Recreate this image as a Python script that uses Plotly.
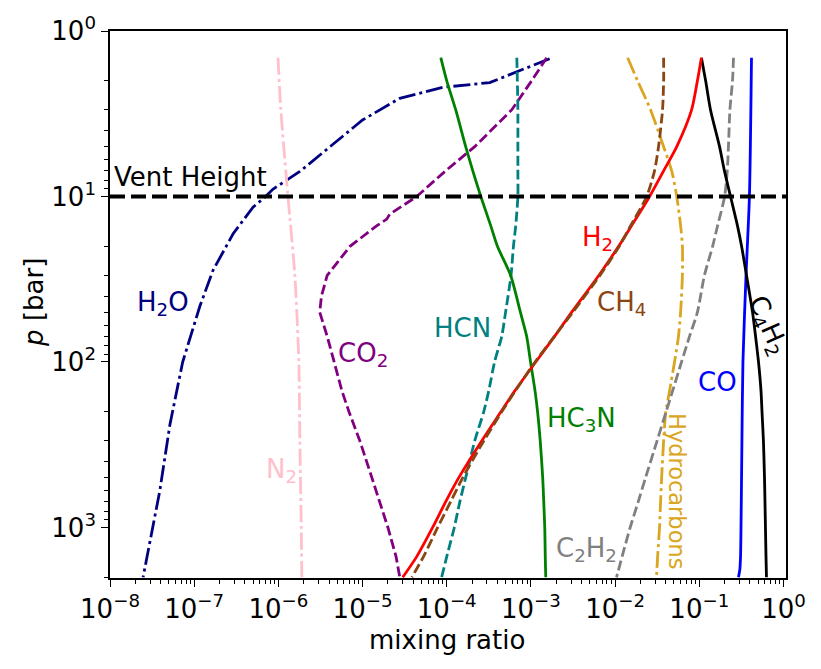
import numpy as np
import plotly.graph_objects as go

# ---------------- data ----------------
P_GRID = [1.45, 2, 3, 5, 7, 10, 15, 20, 30, 50, 70, 100, 150, 200, 300, 500, 700, 1000, 1500, 2000]

H2O_P = [1.47, 2.05, 2.19, 2.55, 3.45, 4.87, 7.06, 9.04, 10.1, 11.6, 16.8, 28, 45.9, 100, 239, 602, 1432, 2000]
H2O_X = [1.67e-3, 3.24e-4, 8.97e-5, 2.77e-5, 1.0e-5, 4.4e-6, 1.8e-6, 8.6e-7, 6.9e-7, 5.0e-7, 2.9e-7,
         1.67e-7, 1.17e-7, 7.3e-8, 5.15e-8, 3.9e-8, 2.8e-8, 2.47e-8]

N2_P = [1.45, 3, 10, 30, 100, 300, 1000, 2000]
N2_X = [9.9e-7, 1.07e-6, 1.30e-6, 1.57e-6, 1.75e-6, 1.80e-6, 1.87e-6, 1.90e-6]

CO2_P = [1.45, 2, 3, 5, 7, 10, 12.8, 13.7, 15, 20, 30, 40, 50, 70, 100, 150, 200, 300, 500, 700, 1000, 1500, 2000]
CO2_X = [1.54e-3, 1.02e-3, 5.9e-4, 2.15e-4, 9.7e-5, 4.4e-5, 2.1e-5, 1.94e-5, 1.48e-5, 7.1e-6, 3.8e-6,
         3.25e-6, 3.1e-6, 3.8e-6, 4.6e-6, 5.7e-6, 6.9e-6, 9.3e-6, 1.29e-5, 1.6e-5, 2.0e-5, 2.5e-5, 2.77e-5]

HCN_X = [6.8e-4, 6.9e-4, 7.0e-4, 7.0e-4, 7.0e-4, 7.0e-4, 6.6e-4, 6.2e-4, 5.8e-4, 5.0e-4, 4.5e-4,
         3.7e-4, 3.15e-4, 2.75e-4, 2.15e-4, 1.68e-4, 1.43e-4, 1.23e-4, 1.0e-4, 8.7e-5]

HC3N_X = [8.5e-5, 1.0e-4, 1.28e-4, 1.68e-4, 2.04e-4, 2.54e-4, 3.33e-4, 4.0e-4, 5.75e-4, 7.5e-4, 8.9e-4,
          9.9e-4, 1.12e-3, 1.20e-3, 1.29e-3, 1.38e-3, 1.42e-3, 1.46e-3, 1.48e-3, 1.50e-3]

H2_X = [0.106, 0.095, 0.081, 0.054, 0.0377, 0.0257, 0.0157, 0.0110, 6.4e-3, 3.05e-3, 1.91e-3,
        1.14e-3, 6.4e-4, 4.4e-4, 2.6e-4, 1.39e-4, 9.7e-5, 6.8e-5, 4.4e-5, 3.0e-5]

CH4_X = [0.0377, 0.0377, 0.0366, 0.0328, 0.0294, 0.0237, 0.0153, 0.0112, 6.6e-3, 3.15e-3, 1.9e-3,
         1.12e-3, 6.5e-4, 4.5e-4, 2.75e-4, 1.55e-4, 1.11e-4, 7.8e-5, 5.3e-5, 3.85e-5]

HYDRO_X = [0.0141, 0.0185, 0.0264, 0.0377, 0.047, 0.054, 0.060, 0.063, 0.063, 0.060, 0.0566,
           0.0508, 0.0443, 0.040, 0.0377, 0.0357, 0.0347, 0.0337, 0.032, 0.031]

C2H2_X = [0.255, 0.248, 0.231, 0.222, 0.215, 0.200, 0.165, 0.144, 0.115, 0.095, 0.0766,
          0.0615, 0.0481, 0.0403, 0.0315, 0.0230, 0.0188, 0.0151, 0.0121, 0.0104]

CO_P = [1.45, 10, 30, 100, 300, 1000, 1500, 1800, 2000]
CO_X = [0.417, 0.394, 0.359, 0.330, 0.321, 0.313, 0.309, 0.303, 0.292]

C4H2_X = [0.106, 0.119, 0.136, 0.174, 0.199, 0.235, 0.284, 0.318, 0.364, 0.429, 0.466,
          0.505, 0.541, 0.556, 0.578, 0.595, 0.603, 0.611, 0.620, 0.628]

VENT_P = 10

X_TICKS = [1e-8, 1e-7, 1e-6, 1e-5, 1e-4, 1e-3, 1e-2, 1e-1, 1e0]
X_TICKTEXT = ["10<sup>−8</sup>", "10<sup>−7</sup>", "10<sup>−6</sup>", "10<sup>−5</sup>", "10<sup>−4</sup>",
              "10<sup>−3</sup>", "10<sup>−2</sup>", "10<sup>−1</sup>", "10<sup>0</sup>"]
Y_TICKS = [1, 10, 100, 1000]
Y_TICKTEXT = ["10<sup>0</sup>", "10<sup>1</sup>", "10<sup>2</sup>", "10<sup>3</sup>"]

# ---------------- styling ----------------
FONT = "DejaVu Sans"
FS = 26
LW = 2.8
DASH = "10px,4px"
DASHDOT = "17px,4px,3px,4px"

fig = go.Figure()

series = [
    (H2O_X, H2O_P, "navy", DASHDOT, "linear"),
    (N2_X, N2_P, "pink", DASHDOT, "spline"),
    (CO2_X, CO2_P, "purple", DASH, "linear"),
    (HCN_X, P_GRID, "teal", DASH, "spline"),
    (HC3N_X, P_GRID, "green", "solid", "spline"),
    (HYDRO_X, P_GRID, "goldenrod", DASHDOT, "spline"),
    (C2H2_X, P_GRID, "gray", DASH, "spline"),
    (CO_X, CO_P, "blue", "solid", "spline"),
    (C4H2_X, P_GRID, "black", "solid", "spline"),
    (H2_X, P_GRID, "red", "solid", "spline"),
    (CH4_X, P_GRID, "saddlebrown", DASH, "spline"),
]
for xs, ps, col, dash, shape in series:
    line = dict(color=col, width=LW, dash=dash, shape=shape)
    if shape == "spline":
        line["smoothing"] = 0.7
    fig.add_trace(go.Scatter(x=xs, y=ps, mode="lines", line=line,
                             showlegend=False, hoverinfo="skip"))

X_MIN_LOG, X_MAX_LOG = -8, 0.03
fig.add_trace(go.Scatter(x=[10 ** X_MIN_LOG, 10 ** X_MAX_LOG], y=[VENT_P, VENT_P], mode="lines",
                         line=dict(color="black", width=4, dash="15px,6px"),
                         showlegend=False, hoverinfo="skip"))

labels = [
    ("Vent Height", 10 ** -7.976, 9.7, "black", 0, "left", "bottom", FS),
    ("H<sub>2</sub>O", 10 ** -7.371, 10 ** 1.644, "navy", 0, "center", "middle", FS),
    ("N<sub>2</sub>", 10 ** -5.958, 10 ** 2.654, "pink", 0, "center", "middle", FS),
    ("CO<sub>2</sub>", 10 ** -4.997, 10 ** 1.955, "purple", 0, "center", "middle", FS),
    ("HCN", 10 ** -3.810, 10 ** 1.793, "teal", 0, "center", "middle", FS),
    ("HC<sub>3</sub>N", 10 ** -2.398, 10 ** 2.349, "green", 0, "center", "middle", FS),
    ("H<sub>2</sub>", 10 ** -2.208, 10 ** 1.255, "red", 0, "center", "middle", FS),
    ("CH<sub>4</sub>", 10 ** -1.923, 10 ** 1.644, "saddlebrown", 0, "center", "middle", FS),
    ("C<sub>2</sub>H<sub>2</sub>", 10 ** -2.338, 10 ** 3.132, "gray", 0, "center", "middle", FS),
    ("Hydrocarbons", 10 ** -1.265, 10 ** 2.779, "goldenrod", 90, "center", "middle", 22.5),
    ("CO", 10 ** -0.783, 10 ** 2.122, "blue", 0, "center", "middle", FS),
    ("C<sub>4</sub>H<sub>2</sub>", 10 ** -0.190, 10 ** 1.781, "black", 66, "center", "middle", FS),
]
for txt, xv, yv, col, ang, xa, ya, fs in labels:
    fig.add_annotation(x=np.log10(xv), y=np.log10(yv), xref="x", yref="y", text=txt,
                       showarrow=False, textangle=ang, xanchor=xa, yanchor=ya,
                       font=dict(family=FONT, size=fs, color=col))

# axis titles
fig.add_annotation(x=0.4985, y=-0.113, xref="paper", yref="paper", text="mixing ratio",
                   showarrow=False, xanchor="center", yanchor="middle",
                   font=dict(family=FONT, size=FS, color="black"))
fig.add_annotation(x=-0.1124, y=0.503, xref="paper", yref="paper", text="<i>p</i> [bar]",
                   showarrow=False, textangle=-90, xanchor="center", yanchor="middle",
                   font=dict(family=FONT, size=FS, color="black"))

x_minor = [m * 10.0 ** e for e in range(-8, 0) for m in range(2, 10)]
y_minor = [m * 10.0 ** e for e in range(0, 4) for m in range(2, 10)]

fig.update_xaxes(type="log", range=[X_MIN_LOG, X_MAX_LOG], tickvals=X_TICKS, ticktext=X_TICKTEXT,
                 ticks="outside", ticklen=7, tickwidth=1.3, tickcolor="black",
                 showline=True, linecolor="black", linewidth=1.6, mirror=True,
                 showgrid=False, zeroline=False,
                 tickfont=dict(family=FONT, size=FS, color="black"),
                 minor=dict(tickvals=x_minor, ticks="outside", ticklen=4, tickwidth=1, tickcolor="black",
                            showgrid=False))
fig.update_yaxes(type="log", range=[np.log10(2020), 0], tickvals=Y_TICKS, ticktext=Y_TICKTEXT,
                 ticks="outside", ticklen=7, tickwidth=1.3, tickcolor="black",
                 showline=True, linecolor="black", linewidth=1.6, mirror=True,
                 showgrid=False, zeroline=False,
                 tickfont=dict(family=FONT, size=FS, color="black"),
                 minor=dict(tickvals=y_minor, ticks="outside", ticklen=4, tickwidth=1, tickcolor="black",
                            showgrid=False))

fig.update_layout(width=821, height=669, margin=dict(l=110, r=35, t=25, b=91),
                  paper_bgcolor="white", plot_bgcolor="white",
                  font=dict(family=FONT, size=FS, color="black"))

fig.write_html("out.html")
